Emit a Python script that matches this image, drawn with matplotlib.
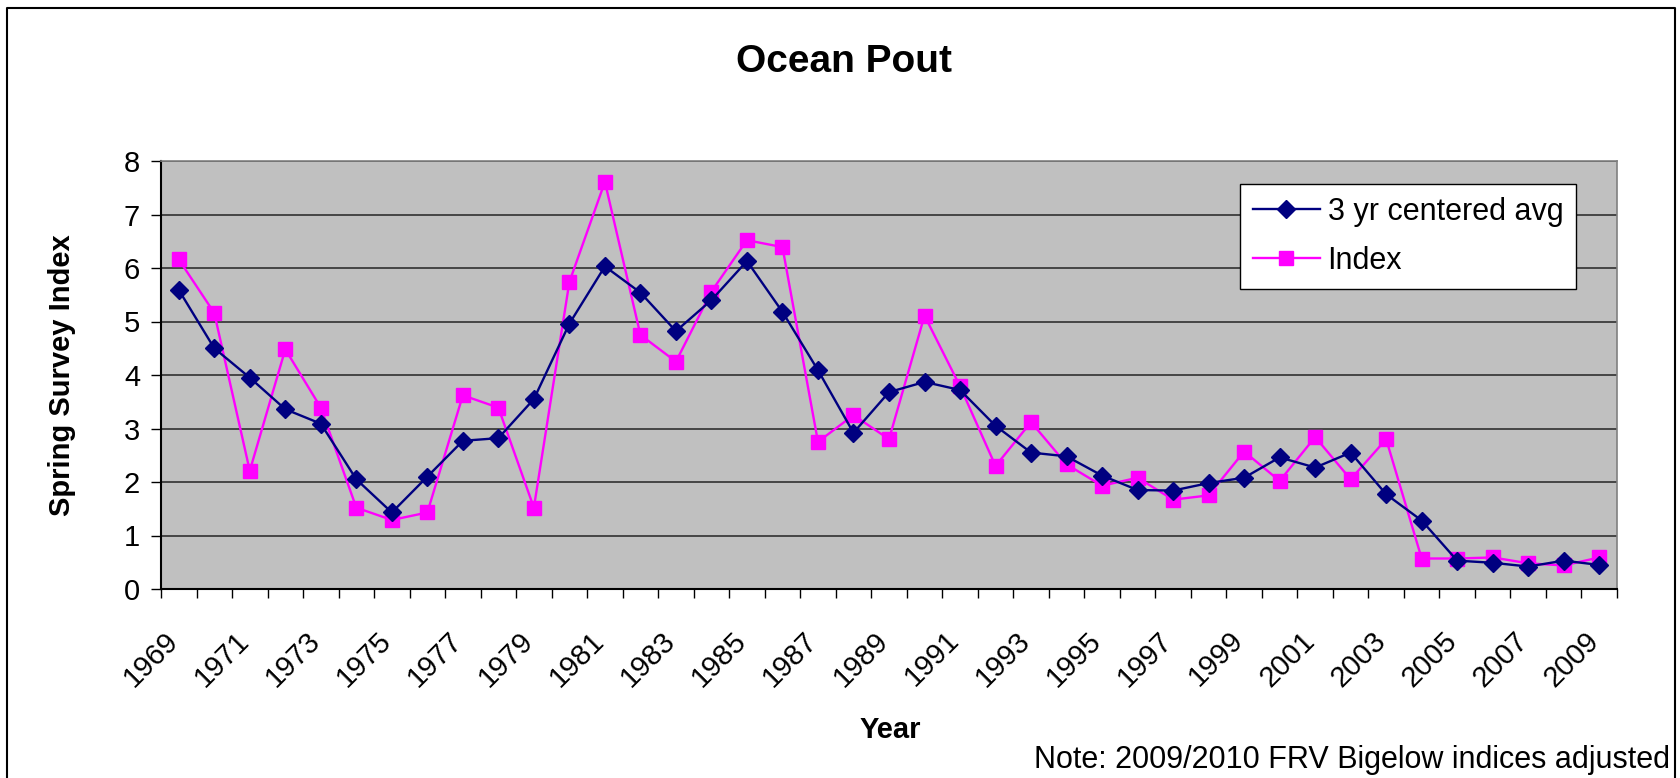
import matplotlib
matplotlib.use("Agg")
from matplotlib import pyplot as plt
from matplotlib.lines import Line2D
from matplotlib.transforms import ScaledTranslation

plt.rcParams['font.family'] = ['Liberation Sans', 'DejaVu Sans']

years = list(range(1969, 2010))
avg3 = [5.59, 4.50, 3.95, 3.36, 3.09, 2.05, 1.43, 2.10, 2.77, 2.82,
        3.55, 4.96, 6.03, 5.54, 4.82, 5.40, 6.13, 5.18, 4.09, 2.92,
        3.68, 3.87, 3.72, 3.05, 2.55, 2.48, 2.12, 1.85, 1.84, 1.98,
        2.08, 2.46, 2.27, 2.55, 1.77, 1.28, 0.53, 0.49, 0.42, 0.53, 0.45]
index = [6.16, 5.16, 2.21, 4.48, 3.39, 1.52, 1.29, 1.43, 3.62, 3.39,
         1.52, 5.74, 7.61, 4.75, 4.25, 5.56, 6.52, 6.39, 2.75, 3.25,
         2.80, 5.11, 3.79, 2.30, 3.12, 2.33, 1.93, 2.08, 1.67, 1.75,
         2.57, 2.02, 2.84, 2.05, 2.80, 0.57, 0.57, 0.59, 0.48, 0.44, 0.59]
labels_shown = [str(y) for y in years[::2]]

W, H = 1680, 778
fig = plt.figure(figsize=(W / 100, H / 100), dpi=100)
ax = fig.add_axes([161 / W, 1 - 589 / H, (1617 - 161) / W, (589 - 161) / H])
ax.set_facecolor('#C0C0C0')

x = list(range(len(years)))
ax.plot(x, avg3, color='#000080', lw=1.7, marker='D', ms=9,
        label='3 yr centered avg', zorder=4)
ax.plot(x, index, color='#FF00FF', lw=1.7, marker='s', ms=10,
        label='Index', zorder=3)

ax.set_xlim(-0.5, len(years) - 0.5)
ax.set_ylim(0, 8)
ax.set_yticks(range(0, 9))
ax.yaxis.grid(True, color='#303030', lw=1.2)
ax.set_axisbelow(True)
ax.tick_params(axis='y', direction='out', length=7, width=1, labelsize=21, pad=8)

ax.set_xticks(x[::2])
ax.set_xticklabels(labels_shown, rotation=45, ha='right', va='center',
                   rotation_mode='anchor', fontsize=21)
ax.set_xticks([i - 0.5 for i in range(len(years) + 1)], minor=True)
ax.tick_params(axis='x', which='major', length=0, pad=34)
ax.tick_params(axis='x', which='minor', direction='out', length=6.5, width=1)
shift = ScaledTranslation(-5 / 100, 0, fig.dpi_scale_trans)
for lab in ax.get_xticklabels():
    lab.set_transform(lab.get_transform() + shift)

for s in ['top', 'right']:
    ax.spines[s].set_color('#808080')
    ax.spines[s].set_linewidth(1.2)
for s in ['left', 'bottom']:
    ax.spines[s].set_color('black')
    ax.spines[s].set_linewidth(1.5)

leg = ax.legend(loc='upper right', bbox_to_anchor=(1576 / W, 1 - 184 / H),
                bbox_transform=fig.transFigure, borderaxespad=0, fontsize=22,
                frameon=True, fancybox=False, framealpha=1, edgecolor='black',
                handlelength=2.2, handletextpad=0.25, labelspacing=0.62,
                borderpad=0.42)
leg.get_frame().set_linewidth(1.0)

fig.text(844 / W, 1 - 72 / H, 'Ocean Pout', fontsize=28, fontweight='bold',
         ha='center', va='baseline')
fig.text(70 / W, 1 - 375 / H, 'Spring Survey Index', fontsize=21,
         fontweight='bold', rotation=90, ha='center', va='baseline',
         rotation_mode='anchor')
fig.text(890 / W, 1 - 738 / H, 'Year', fontsize=21, fontweight='bold',
         ha='center', va='baseline')
fig.text(1670 / W, 1 - 768 / H, 'Note: 2009/2010 FRV Bigelow indices adjusted',
         fontsize=22, ha='right', va='baseline')

# chart area border (bottom edge cropped off in the original)
bx = [7 / W, 7 / W, 1675 / W, 1675 / W]
by = [0, 1 - 8 / H, 1 - 8 / H, 0]
fig.add_artist(Line2D(bx, by, color='black', lw=1.5, transform=fig.transFigure))

fig.savefig('out.png', dpi=100)
